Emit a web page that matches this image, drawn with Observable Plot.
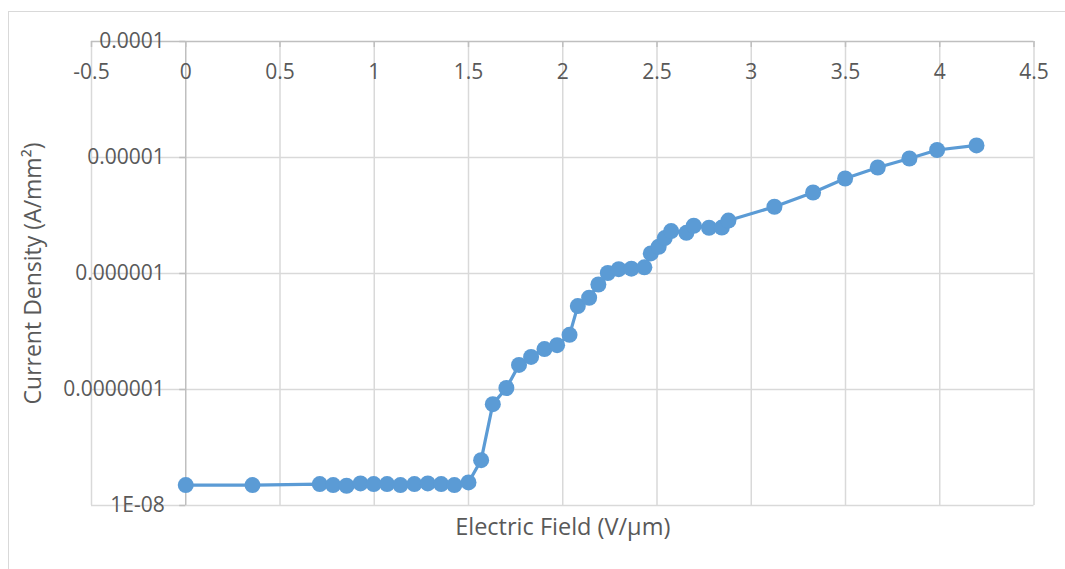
<!DOCTYPE html>
<html>
<head>
<meta charset="utf-8">
<script src="https://cdn.jsdelivr.net/npm/d3@7"></script>
<script src="https://cdn.jsdelivr.net/npm/@observablehq/plot@0.6"></script>
<style>
  html, body { margin: 0; padding: 0; background: #fff; }
  #wrap { position: relative; width: 1065px; height: 569px; overflow: hidden; }
  #border { position: absolute; left: 8px; top: 11px; width: 1080px; height: 600px; border: 1px solid #d9d9d9; box-sizing: border-box; }
  #chart { position: absolute; left: 0; top: 0; }
</style>
</head>
<body>
<div id="wrap"><div id="border"></div><div id="chart"></div></div>
<script>
// Electric field (V/µm)
const field = [0, 0.354, 0.711, 0.782, 0.853, 0.927, 0.997, 1.068, 1.139, 1.213, 1.284, 1.355, 1.425, 1.50,
  1.567, 1.629, 1.701, 1.768, 1.832, 1.903, 1.970, 2.036, 2.080, 2.140, 2.189, 2.239, 2.297, 2.364, 2.433,
  2.467, 2.509, 2.541, 2.575, 2.656, 2.695, 2.776, 2.844, 2.879, 3.123, 3.328, 3.498, 3.671, 3.839, 3.986, 4.195];
// Current density (A/mm²)
const density = [1.50e-8, 1.50e-8, 1.53e-8, 1.50e-8, 1.48e-8, 1.55e-8, 1.53e-8, 1.53e-8, 1.50e-8, 1.53e-8, 1.55e-8, 1.53e-8, 1.50e-8, 1.58e-8,
  2.46e-8, 7.48e-8, 1.03e-7, 1.63e-7, 1.91e-7, 2.23e-7, 2.41e-7, 2.96e-7, 5.24e-7, 6.18e-7, 8.04e-7, 1.01e-6, 1.09e-6, 1.10e-6, 1.13e-6,
  1.49e-6, 1.70e-6, 2.02e-6, 2.32e-6, 2.24e-6, 2.58e-6, 2.48e-6, 2.49e-6, 2.86e-6, 3.76e-6, 4.99e-6, 6.59e-6, 8.20e-6, 9.80e-6, 1.16e-5, 1.27e-5];

const xTicks = [-0.5, 0, 0.5, 1, 1.5, 2, 2.5, 3, 3.5, 4, 4.5];
const xTickLabels = ["-0.5", "0", "0.5", "1", "1.5", "2", "2.5", "3", "3.5", "4", "4.5"];
const yTicks = [1e-8, 1e-7, 1e-6, 1e-5, 1e-4];
const yTickLabels = ["1E-08", "0.0000001", "0.000001", "0.00001", "0.0001"];
const xTitle = "Electric Field (V/µm)";
const yTitle = "Current Density (A/mm²)";

const data = field.map((f, i) => ({field: f, density: density[i]}));
const xTickData = xTicks.map((v, i) => ({v, label: xTickLabels[i]}));
const yTickData = yTicks.map((v, i) => ({v, label: yTickLabels[i]}));

const W = 1065, H = 569;
const mT = 41, mB = 64, mL = 91, mR = 31.5;
const frameH = H - mT - mB;
const halfStep = (W - mL - mR) / 10;

const font = "'Open Sans', sans-serif";
const textColor = "#595959";
const blue = "#5b9bd5";

const chart = Plot.plot({
  width: W, height: H,
  marginTop: mT, marginBottom: mB, marginLeft: mL, marginRight: mR,
  x: {domain: [-0.5, 4.5], axis: null},
  y: {type: "log", domain: [1e-8, 1e-4], axis: null},
  style: {fontFamily: font, background: "transparent"},
  marks: [
    Plot.ruleX(xTicks.filter(d => d !== 0), {x: d => d, stroke: "#d9d9d9", strokeWidth: 1.5}),
    Plot.ruleY(yTicks.filter(d => d !== 1e-4), {y: d => d, stroke: "#d9d9d9", strokeWidth: 1.5}),
    Plot.ruleX([0], {stroke: "#bfbfbf", strokeWidth: 1.5}),
    Plot.ruleY([1e-4], {stroke: "#bfbfbf", strokeWidth: 1.5}),
    // top axis tick marks (pointing down)
    Plot.ruleX(xTicks, {x: d => d, stroke: "#bfbfbf", strokeWidth: 1.5, insetBottom: frameH - 6}),
    // y axis tick marks at x = 0 (pointing left)
    Plot.ruleY(yTicks, {y: d => d, x1: -0.5, x2: 0, stroke: "#bfbfbf", strokeWidth: 1.5, insetLeft: halfStep - 6}),
    Plot.text(xTickData, {x: "v", y: 1e-4, text: "label", dy: 31, fontSize: 21, fill: textColor, textAnchor: "middle", lineAnchor: "middle"}),
    Plot.text(yTickData, {x: 0, y: "v", text: "label", dx: -21, fontSize: 21, fill: textColor, textAnchor: "end", lineAnchor: "middle"}),
    Plot.line(data, {x: "field", y: "density", stroke: blue, strokeWidth: 3.2}),
    Plot.dot(data, {x: "field", y: "density", r: 8, fill: blue, stroke: "none"}),
    Plot.text([xTitle], {frameAnchor: "bottom", dy: 22, fontSize: 23.5, fill: textColor, lineAnchor: "middle"}),
    Plot.text([yTitle], {frameAnchor: "left", dx: -58, rotate: -90, fontSize: 23, fill: textColor, textAnchor: "middle", lineAnchor: "middle"})
  ]
});
chart.setAttribute("width", W);
chart.setAttribute("height", H);
document.getElementById("chart").appendChild(chart);
</script>
</body>
</html>
